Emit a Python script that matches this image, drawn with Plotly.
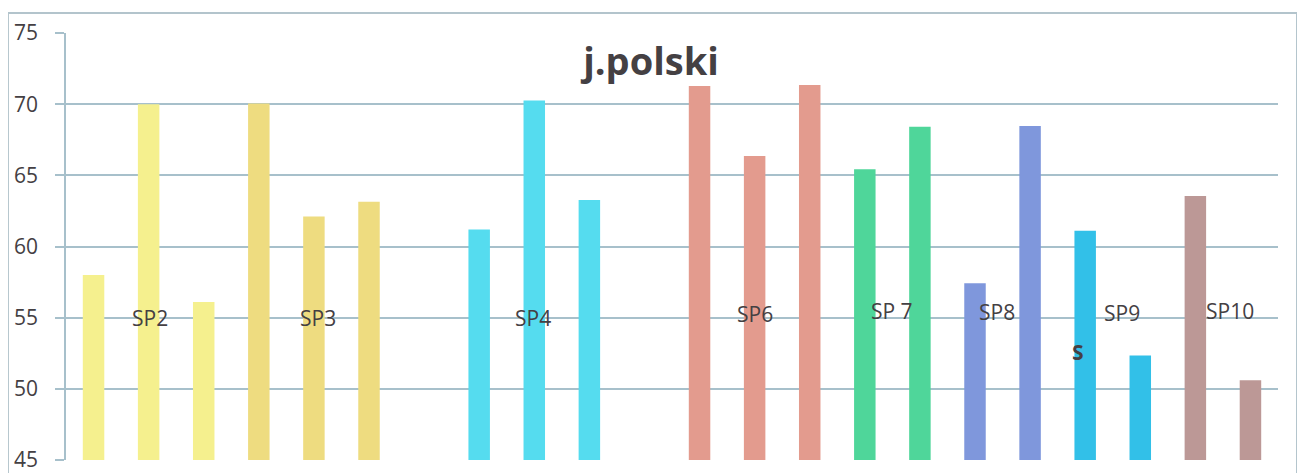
import plotly.graph_objects as go

# ---- data ----
groups = ["SP2", "SP2", "SP2", "SP3", "SP3", "SP3", "",
          "SP4", "SP4", "SP4", "",
          "SP6", "SP6", "SP6", "SP7", "SP7", "SP8", "SP8",
          "SP9", "SP9", "SP10", "SP10"]
values = [58.0, 70.0, 56.1, 70.05, 62.1, 63.15, None,
          61.2, 70.25, 63.27, None,
          71.28, 66.36, 71.35, 65.42, 68.42, 57.41, 68.47,
          61.11, 52.35, 63.55, 50.6]
bar_colors = ["#f5f08e", "#f5f08e", "#f5f08e", "#eedc80", "#eedc80", "#eedc80", "#ffffff",
              "#55dcef", "#55dcef", "#55dcef", "#ffffff",
              "#e39b8e", "#e39b8e", "#e39b8e", "#4fd69a", "#4fd69a", "#7f97dc", "#7f97dc",
              "#32c0e8", "#32c0e8", "#bc9896", "#bc9896"]
label_texts = ["SP2", "SP3", "SP4", "SP6", "SP 7", "SP8", "SP9", "S", "SP10"]
label_x = [1.02, 4.07, 7.98, 12.0, 14.5, 16.4, 18.66, 17.87, 20.63]
label_y = [55.0, 55.0, 55.0, 55.25, 55.5, 55.4, 55.3, 52.6, 55.5]
label_bold = [False, False, False, False, False, False, False, True, False]
title_text = "j.polski"
y_ticks = [45, 50, 55, 60, 65, 70, 75]

x_pos = list(range(len(values)))
grid_col = "#a7c0cb"
txt_col = "#444043"

fig = go.Figure()
fig.add_trace(go.Bar(
    x=x_pos, y=values, marker=dict(color=bar_colors, line=dict(width=0)),
    width=0.39, hoverinfo="y", showlegend=False,
))

for t, xx, yy, b in zip(label_texts, label_x, label_y, label_bold):
    fig.add_annotation(
        x=xx, y=yy, xref="x", yref="y", text=(f"<b>{t}</b>" if b else t),
        showarrow=False, xanchor="center", yanchor="middle",
        font=dict(family="Open Sans", size=21, color=txt_col),
    )

# outer frame
fig.add_shape(type="rect", xref="paper", yref="paper",
              x0=-0.0479, x1=1.0157, y0=-0.08, y1=1.0468,
              line=dict(color="#b3c4cc", width=2), fillcolor="rgba(0,0,0,0)",
              layer="below")

fig.update_layout(
    width=1305, height=473,
    margin=dict(l=58, r=35, t=25, b=21, autoexpand=False),
    paper_bgcolor="white", plot_bgcolor="white",
    title=dict(text=f"<b>{title_text}</b>", x=(651 - 8) / 1305, xanchor="center",
               y=1 - (62 - 8) / 473, yanchor="middle", yref="container",
               font=dict(family="Open Sans", size=38, color=txt_col)),
    xaxis=dict(range=[-0.5, len(values) - 0.5], showgrid=False, zeroline=False,
               showticklabels=False, ticks="", showline=False, automargin=False),
    yaxis=dict(range=[45, 75], tickvals=y_ticks, showgrid=True, gridcolor=grid_col,
               gridwidth=1.5, zeroline=False, showline=True, linecolor=grid_col,
               linewidth=1.5, ticks="outside", ticklen=9, tickcolor=grid_col,
               tickwidth=1.5, ticklabelstandoff=13, automargin=False,
               tickfont=dict(family="Open Sans", size=21, color=txt_col)),
    bargap=0.6,
)

fig.write_html("out.html")
